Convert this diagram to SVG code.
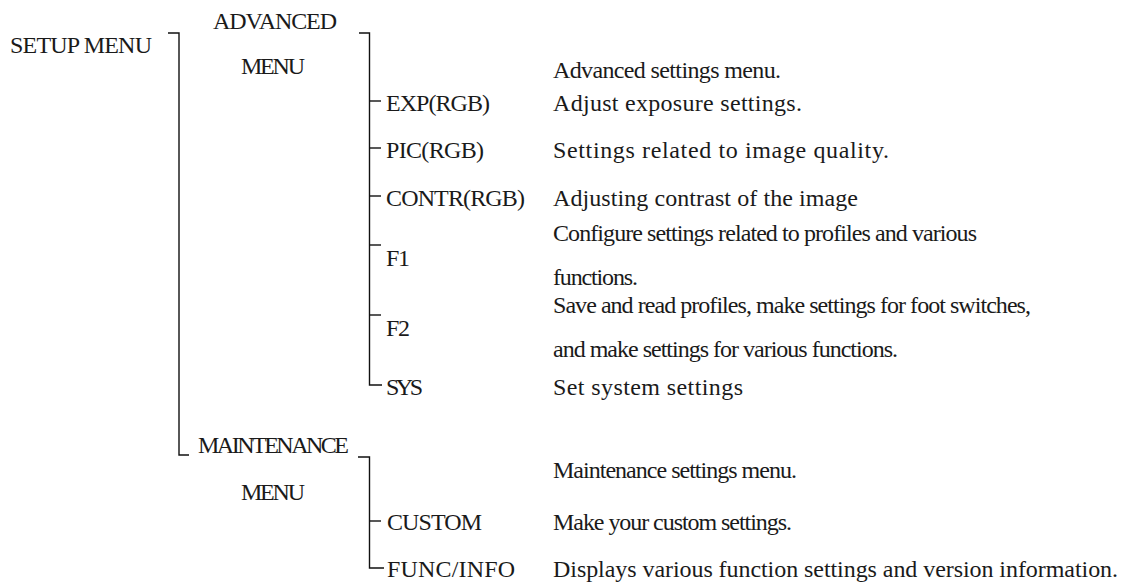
<svg xmlns="http://www.w3.org/2000/svg" width="1124" height="587" viewBox="0 0 1124 587">
<style>
text{font-family:"Liberation Serif","Times New Roman",serif;font-size:24px;fill:#1a1a1a}
.c path{fill:none;stroke:#111;stroke-width:1.4}
</style>
<rect width="1124" height="587" fill="#fff"/>
<g class="c" id="connectors">
<path d="M168,33 H179 V455 H189"/>
<path d="M359,33 H369.5 V385 H382"/>
<path d="M369.5,101 H381"/>
<path d="M369.5,148 H381"/>
<path d="M369.5,196 H381"/>
<path d="M369.5,245 H381"/>
<path d="M369.5,315 H381"/>
<path d="M358,457 H369.5 V568 H384"/>
<path d="M369.5,521 H381"/>
</g>
<g id="setup"><text x="10" y="53" textLength="142">SETUP MENU</text></g>
<g id="advanced"><text x="213" y="29" textLength="124">ADVANCED</text><text x="241" y="74" textLength="64">MENU</text><text x="553" y="78" textLength="228">Advanced settings menu.</text></g>
<g id="exp"><text x="386" y="111" textLength="104">EXP(RGB)</text><text x="553" y="111" textLength="249">Adjust exposure settings.</text></g>
<g id="pic"><text x="386" y="158" textLength="98">PIC(RGB)</text><text x="553" y="158" textLength="336">Settings related to image quality.</text></g>
<g id="contr"><text x="386" y="206" textLength="139">CONTR(RGB)</text><text x="553" y="206" textLength="305">Adjusting contrast of the image</text></g>
<g id="f1"><text x="386" y="266" textLength="24">F1</text><text x="553" y="241" textLength="424">Configure settings related to profiles and various</text><text x="553" y="285" textLength="85">functions.</text></g>
<g id="f2"><text x="386" y="336" textLength="24">F2</text><text x="553" y="313" textLength="478">Save and read profiles, make settings for foot switches,</text><text x="553" y="357" textLength="345">and make settings for various functions.</text></g>
<g id="sys"><text x="386" y="395" textLength="37">SYS</text><text x="553" y="395" textLength="190">Set system settings</text></g>
<g id="maintenance"><text x="198" y="453" textLength="151">MAINTENANCE</text><text x="241" y="500" textLength="64">MENU</text><text x="553" y="478" textLength="244">Maintenance settings menu.</text></g>
<g id="custom"><text x="387" y="530" textLength="95">CUSTOM</text><text x="553" y="530" textLength="239">Make your custom settings.</text></g>
<g id="funcinfo"><text x="387" y="577" textLength="128">FUNC/INFO</text><text x="553" y="577" textLength="565">Displays various function settings and version information.</text></g>
</svg>
